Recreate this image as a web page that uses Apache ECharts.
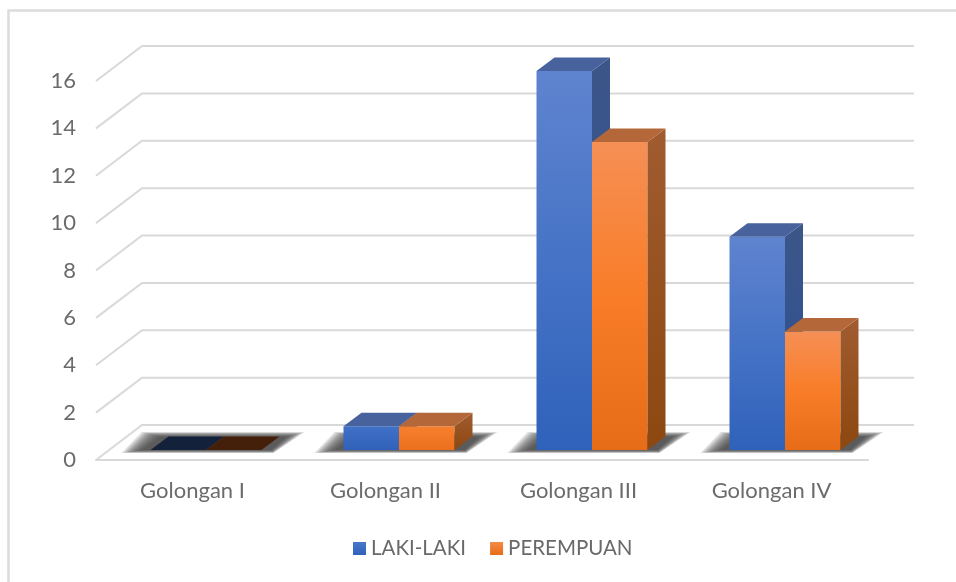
<!DOCTYPE html>
<html>
<head>
<meta charset="utf-8">
<style>
  html, body { margin: 0; padding: 0; background: #fff; }
  #chart { width: 956px; height: 582px; }
</style>
<script src="https://cdn.jsdelivr.net/npm/echarts@6/dist/echarts.min.js"></script>
</head>
<body>
<div id="chart"></div>
<script>
var categories = ['Golongan I', 'Golongan II', 'Golongan III', 'Golongan IV'];
var lakiLaki = [0, 1, 16, 9];
var perempuan = [0, 1, 13, 5];
var yTicks = [0, 2, 4, 6, 8, 10, 12, 14, 16];

// how the fake 3d is set up, in pixels
var wallDx = 46, wallDy = -35;   // front floor edge -> back wall
var barDx = 13.5, barDy = -10;   // front floor edge -> front of the bars
var depthDx = 18, depthDy = -13.5;
var barRatio = 55.5 / 193;
var shadowLayers = 12;

function grad(stops) {
    return { type: 'linear', x: 0, y: 0, x2: 0, y2: 1,
        colorStops: stops.map(function (c, i) { return { offset: i / (stops.length - 1), color: c }; }) };
}

var blue = {
    front: grad(['#5f84cf', '#4673c6', '#2f62ba']),
    low: grad(['#4171c8', '#2f62b8']),
    side: grad(['#3c5688', '#2b4f95']),
    top: '#47629c',
    zero: '#13213b'
};
var orange = {
    front: grad(['#f58f55', '#f97d28', '#e66c17']),
    low: grad(['#f6802f', '#ec6f1c']),
    side: grad(['#a05c30', '#8d4710']),
    top: '#b4683a',
    zero: '#44200b'
};

function renderGrid(params, api) {
    var p = api.coord([0, api.value(0)]);
    var left = params.coordSys.x;
    var right = left + params.coordSys.width;
    var y = p[1];
    return {
        type: 'polyline',
        silent: true,
        shape: { points: [[left, y], [left + wallDx, y + wallDy], [right + wallDx, y + wallDy]] },
        style: { fill: null, stroke: '#d9d9d9', lineWidth: 2 }
    };
}

// soft floor shadow: nested see-through polygons, outer one first
function renderShadow(params, api) {
    var p = api.coord([api.value(0), 0]);
    var w = api.size([1, 0])[0] * barRatio;
    var l = p[0] + barDx - w;
    var r = p[0] + barDx + w;
    var b = p[1] + barDy;
    var outer = [[l - 29, b + 3], [l - 9, b - 18], [r + 43, b - 18], [r + 12, b + 3]];
    var inner = [[l - 8, b], [l + 10, b - 13], [r + 24, b - 13], [r + 10, b]];
    var children = [];
    for (var k = 0; k < shadowLayers; k++) {
        var t = k / (shadowLayers - 1);
        children.push({
            type: 'polygon',
            shape: { points: outer.map(function (o, n) {
                return [o[0] + (inner[n][0] - o[0]) * t, o[1] + (inner[n][1] - o[1]) * t];
            }) },
            style: { fill: '#404040', opacity: 0.15 }
        });
    }
    return { type: 'group', silent: true, children: children };
}

function barRenderer(color, groupOffset) {
    return function (params, api) {
        var i = api.value(0);
        var top = api.coord([i, api.value(1)]);
        var base = api.coord([i, 0]);
        var w = api.size([1, 0])[0] * barRatio;
        var x0 = top[0] + barDx + groupOffset * w;
        var x1 = x0 + w;
        var yt = top[1] + barDy;
        var yb = base[1] + barDy;
        var children = [];
        if (yb > yt) {
            children.push({ type: 'rect', shape: { x: x0, y: yt, width: w, height: yb - yt }, style: { fill: yb - yt < 40 ? color.low : color.front } });
            children.push({ type: 'polygon', shape: { points: [[x1, yt], [x1 + depthDx, yt + depthDy], [x1 + depthDx, yb + depthDy], [x1, yb]] }, style: { fill: color.side } });
        }
        children.push({
            type: 'polygon',
            shape: { points: [[x0, yt], [x0 + depthDx, yt + depthDy], [x1 + depthDx, yt + depthDy], [x1, yt]] },
            style: { fill: yb > yt ? color.top : color.zero }
        });
        return { type: 'group', silent: true, children: children };
    };
}

function toPairs(values) {
    return values.map(function (v, i) { return [i, v]; });
}

var myChart = echarts.init(document.getElementById('chart'));
var option = {
    backgroundColor: '#fff',
    animation: false,
    textStyle: { fontFamily: 'Lato' },
    graphic: [{
        type: 'rect',
        silent: true,
        shape: { x: 8.5, y: 10.5, width: 960, height: 600 },
        style: { fill: null, stroke: '#dcdcdc', lineWidth: 2.5 }
    }],
    grid: { left: 96, top: 81, width: 772, height: 379 },
    legend: {
        data: [
            { name: 'LAKI-LAKI', itemStyle: { color: grad(['#4a78c8', '#2f62ba']) } },
            { name: 'PEREMPUAN', itemStyle: { color: grad(['#f58a45', '#e66c17']) } }
        ],
        left: 353,
        top: 538,
        padding: 0,
        itemWidth: 13,
        itemHeight: 13,
        itemGap: 24,
        icon: 'rect',
        textStyle: { color: '#696969', fontSize: 20.5, fontFamily: 'Lato' }
    },
    xAxis: {
        type: 'category',
        data: categories,
        axisTick: { show: false },
        axisLine: { lineStyle: { color: '#d9d9d9', width: 2 } },
        axisLabel: { color: '#6b6b6b', fontSize: 22, margin: 20, fontFamily: 'Lato' }
    },
    yAxis: {
        type: 'value',
        min: 0,
        max: 16,
        interval: 2,
        axisLine: { show: false },
        axisTick: { show: false },
        splitLine: { show: false },
        axisLabel: { color: '#6b6b6b', fontSize: 22, margin: 20, padding: [5, 0, 0, 0], fontFamily: 'Lato' }
    },
    series: [
        { type: 'custom', coordinateSystem: 'cartesian2d', renderItem: renderGrid, data: yTicks.map(function (v) { return [v]; }), encode: { y: 0 }, clip: false, z: 1, silent: true },
        { type: 'custom', coordinateSystem: 'cartesian2d', renderItem: renderShadow, data: categories.map(function (c, i) { return [i]; }), encode: { x: 0 }, clip: false, z: 2, silent: true },
        { name: 'LAKI-LAKI', type: 'custom', coordinateSystem: 'cartesian2d', renderItem: barRenderer(blue, -1), data: toPairs(lakiLaki), encode: { x: 0, y: 1 }, clip: false, z: 3 },
        { name: 'PEREMPUAN', type: 'custom', coordinateSystem: 'cartesian2d', renderItem: barRenderer(orange, 0), data: toPairs(perempuan), encode: { x: 0, y: 1 }, clip: false, z: 3 }
    ]
};
myChart.setOption(option);
</script>
</body>
</html>
